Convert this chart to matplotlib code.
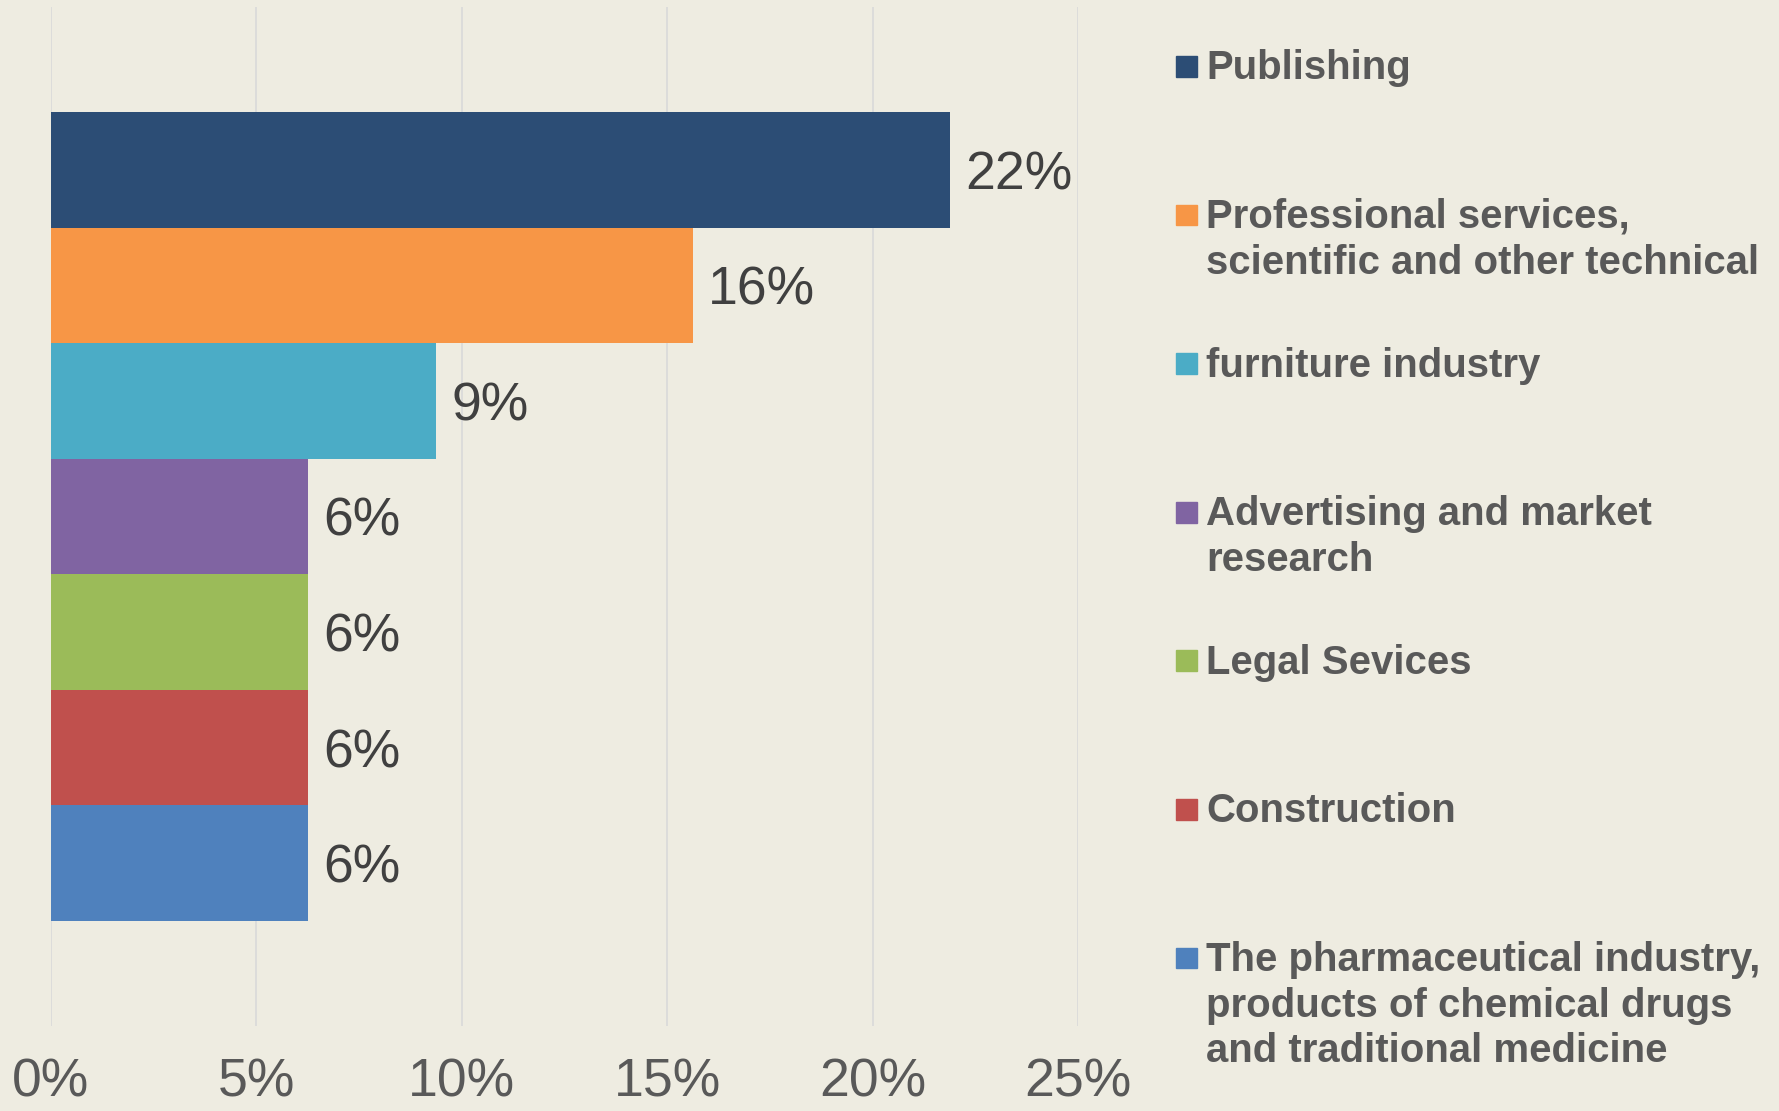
import matplotlib.pyplot as plt
from matplotlib.patches import Rectangle
from matplotlib.ticker import PercentFormatter

categories = [
    "Publishing",
    "Professional services,\nscientific and other technical",
    "furniture industry",
    "Advertising and market\nresearch",
    "Legal Sevices",
    "Construction",
    "The pharmaceutical industry,\nproducts of chemical drugs\nand traditional medicine",
]
shares = [0.21875, 0.15625, 0.09375, 0.0625, 0.0625, 0.0625, 0.0625]
colors = ["#2C4D75", "#F79646", "#4BACC6", "#8064A2", "#9BBB59", "#C0504D", "#4F81BD"]
xticks = [0, 0.05, 0.10, 0.15, 0.20, 0.25]

bg = "#EEECE1"
W, H = 1779, 1111
plt.rcParams['font.family'] = ['Liberation Sans', 'DejaVu Sans']

fig = plt.figure(figsize=(W / 100, H / 100), dpi=100, facecolor=bg)
ax = fig.add_axes([51 / W, 1 - 1026 / H, (1078 - 51) / W, (1026 - 7) / H])
ax.set_facecolor(bg)

pos = list(range(len(shares)))
bars = ax.barh(pos, shares, height=1.0, color=colors, zorder=2)
for b, v in zip(bars, shares):
    ax.annotate(f"{v:.0%}", (b.get_width(), b.get_y() + b.get_height() / 2),
                xytext=(11, 0), textcoords='offset points',
                ha='left', va='center_baseline', fontsize=38.5, color='#404040')

ax.set_xlim(0, 0.25)
ax.set_ylim(len(shares) - 1 + 1.41, -1.41)
ax.set_xticks(xticks)
ax.xaxis.set_major_formatter(PercentFormatter(1.0, decimals=0))
ax.set_yticks([])
ax.tick_params(axis='x', length=0, pad=23, labelsize=38.5, labelcolor='#595959')
ax.grid(axis='x', color='#D9D9D9', lw=1.2, zorder=0)
ax.set_axisbelow(True)
for s in ax.spines.values():
    s.set_visible(False)

# legend drawn by hand so entries sit on an even step like the original
for i, (name, c) in enumerate(zip(categories, colors)):
    base = 79.3 + i * 148.6
    fig.patches.append(Rectangle((1176 / W, 1 - (base - 2.6) / H), 21 / W, 20.7 / H,
                                 transform=fig.transFigure, color=c))
    fig.text(1206 / W, 1 - (base - 30) / H, name, ha='left', va='top',
             fontsize=28.9, fontweight='bold', color='#595959', linespacing=1.26)

fig.savefig("out.png", dpi=100, facecolor=bg)
